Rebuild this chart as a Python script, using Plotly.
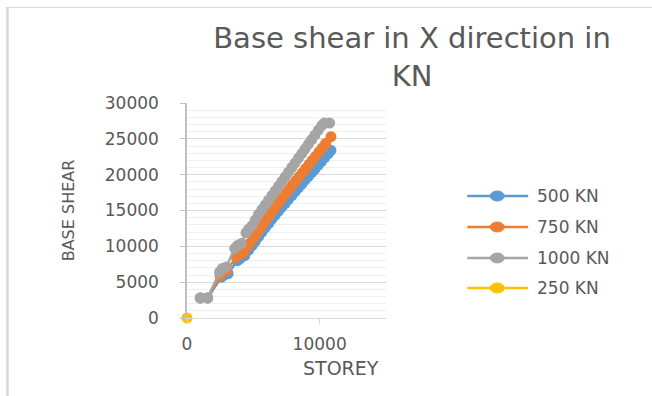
import plotly.graph_objects as go

# ---- data ----
series_names = ["500 KN", "750 KN", "1000 KN", "250 KN"]
series_colors = ["#5B9BD5", "#ED7D31", "#A5A5A5", "#FFC000"]

storey_500 = [1000, 1550, 2600, 2800, 3100, 3800, 4000, 4350, 4650, 4900, 5150, 5400,
              5650, 5900, 6150, 6400, 6650, 6900, 7150, 7400, 7650, 7900, 8150, 8400,
              8650, 8900, 9150, 9400, 9650, 9900, 10150, 10400, 10650, 10850]
shear_500 = [2800, 2800, 5700, 6000, 6200, 8000, 8300, 8700, 9480, 10090, 10710, 11370,
             11990, 12610, 13170, 13790, 14350, 14920, 15480, 16000, 16560, 17080, 17640, 18160,
             18670, 19240, 19760, 20270, 20790, 21350, 21870, 22430, 22950, 23400]

storey_750 = [1000, 1550, 2500, 2700, 3000, 3700, 3900, 4250, 4550, 4750, 5000, 5250,
              5500, 5700, 5950, 6200, 6450, 6700, 6950, 7200, 7450, 7700, 7950, 8200,
              8450, 8700, 8950, 9200, 9450, 9700, 9950, 10200, 10450, 10850]
shear_750 = [2800, 2800, 5900, 6400, 6600, 8500, 8800, 9100, 9900, 10450, 11100, 11800,
             12470, 13000, 13670, 14300, 14920, 15560, 16180, 16790, 17380, 17970, 18560, 19150,
             19720, 20270, 20860, 21450, 22020, 22580, 23170, 23750, 24350, 25300]

storey_1000 = [1000, 1550, 2450, 2650, 2950, 3600, 3800, 4100, 4450, 4650, 4900, 5150,
               5400, 5650, 5900, 6150, 6400, 6650, 6900, 7150, 7400, 7650, 7900, 8150,
               8400, 8650, 8900, 9150, 9400, 9650, 9900, 10150, 10350, 10750]
shear_1000 = [2800, 2800, 6400, 6900, 7100, 9700, 10100, 10400, 11900, 12400, 12900, 13700,
              14500, 15150, 15800, 16450, 17100, 17750, 18400, 19050, 19700, 20350, 21000, 21650,
              22300, 22950, 23600, 24250, 24900, 25550, 26200, 26850, 27200, 27200]

storey_250 = [0]
shear_250 = [0]

x_ticks = [0, 10000]
y_ticks = [0, 5000, 10000, 15000, 20000, 25000, 30000]

# ---- geometry (pixels) ----
W, H = 652, 396
L, R, T, B = 187, 386.5, 103, 318


def px_x(p):
    return (p - L) / (R - L)


def px_y(p):
    return (B - p) / (B - T)


FONT = "DejaVu Sans"
TXT = "#595959"

fig = go.Figure()
all_x = [storey_500, storey_750, storey_1000, storey_250]
all_y = [shear_500, shear_750, shear_1000, shear_250]
for name, color, xs, ys in zip(series_names, series_colors, all_x, all_y):
    fig.add_trace(go.Scatter(
        x=xs, y=ys, name=name, mode="lines+markers",
        line=dict(color=color, width=2.5),
        marker=dict(color=color, size=11, symbol="circle"),
        cliponaxis=False, showlegend=False,
    ))

shapes = []
annotations = []

# legend drawn as line + marker + label
legend_rows = [196, 227, 258, 288]
for name, color, row in zip(series_names, series_colors, legend_rows):
    shapes.append(dict(type="line", xref="paper", yref="paper",
                       x0=px_x(468), x1=px_x(529), y0=px_y(row), y1=px_y(row),
                       line=dict(color=color, width=2.5)))
    shapes.append(dict(type="circle", xref="paper", yref="paper",
                       xsizemode="pixel", ysizemode="pixel",
                       xanchor=px_x(498), yanchor=px_y(row),
                       x0=-7, x1=7, y0=-5, y1=5,
                       fillcolor=color, line=dict(color=color, width=1)))
    annotations.append(dict(text=name, xref="paper", yref="paper",
                            x=px_x(536), y=px_y(row), xanchor="left", yanchor="middle",
                            showarrow=False, font=dict(family=FONT, size=17, color=TXT)))

# outer frame (left and top edges)
shapes.append(dict(type="line", xref="paper", yref="paper",
                   x0=px_x(7), x1=px_x(7), y0=px_y(7), y1=px_y(400),
                   line=dict(color="#D9D9D9", width=2.5)))
shapes.append(dict(type="line", xref="paper", yref="paper",
                   x0=px_x(6), x1=px_x(660), y0=px_y(7.5), y1=px_y(7.5),
                   line=dict(color="#D9D9D9", width=1)))

# axis titles
annotations.append(dict(text="STOREY", xref="paper", yref="paper",
                        x=px_x(341), y=px_y(368), xanchor="center", yanchor="middle",
                        showarrow=False, font=dict(family=FONT, size=19, color=TXT)))
annotations.append(dict(text="BASE SHEAR", xref="paper", yref="paper",
                        x=px_x(68), y=px_y(210), xanchor="center", yanchor="middle",
                        textangle=-90, showarrow=False,
                        font=dict(family=FONT, size=16, color=TXT)))

fig.update_layout(
    width=W, height=H,
    margin=dict(l=L, r=W - R, t=T, b=H - B, pad=0),
    paper_bgcolor="white", plot_bgcolor="white",
    title=dict(text="Base shear in X direction in<br>KN",
               x=412 / W, xanchor="center", xref="container",
               y=1 - 48 / H, yanchor="middle", yref="container",
               font=dict(family=FONT, size=29, color=TXT)),
    xaxis=dict(range=[0, 15000], tickvals=x_ticks, tickformat="d",
               showgrid=False, zeroline=False,
               showline=True, linecolor="#D9D9D9", linewidth=1,
               ticks="outside", ticklen=5, tickcolor="#D9D9D9",
               ticklabelstandoff=6,
               tickfont=dict(family=FONT, size=17, color=TXT)),
    yaxis=dict(range=[0, 30000], tickvals=y_ticks, tickformat="d",
               showgrid=True, gridcolor="#D9D9D9",
               zeroline=False, showline=True, linecolor="#BFBFBF", linewidth=1.5,
               ticks="outside", ticklen=5, tickcolor="#BFBFBF",
               ticklabelstandoff=18,
               minor=dict(dtick=1000, showgrid=True, gridcolor="#EFEFEF", gridwidth=1),
               tickfont=dict(family=FONT, size=17, color=TXT)),
    shapes=shapes, annotations=annotations,
)

fig.write_html("out.html")
